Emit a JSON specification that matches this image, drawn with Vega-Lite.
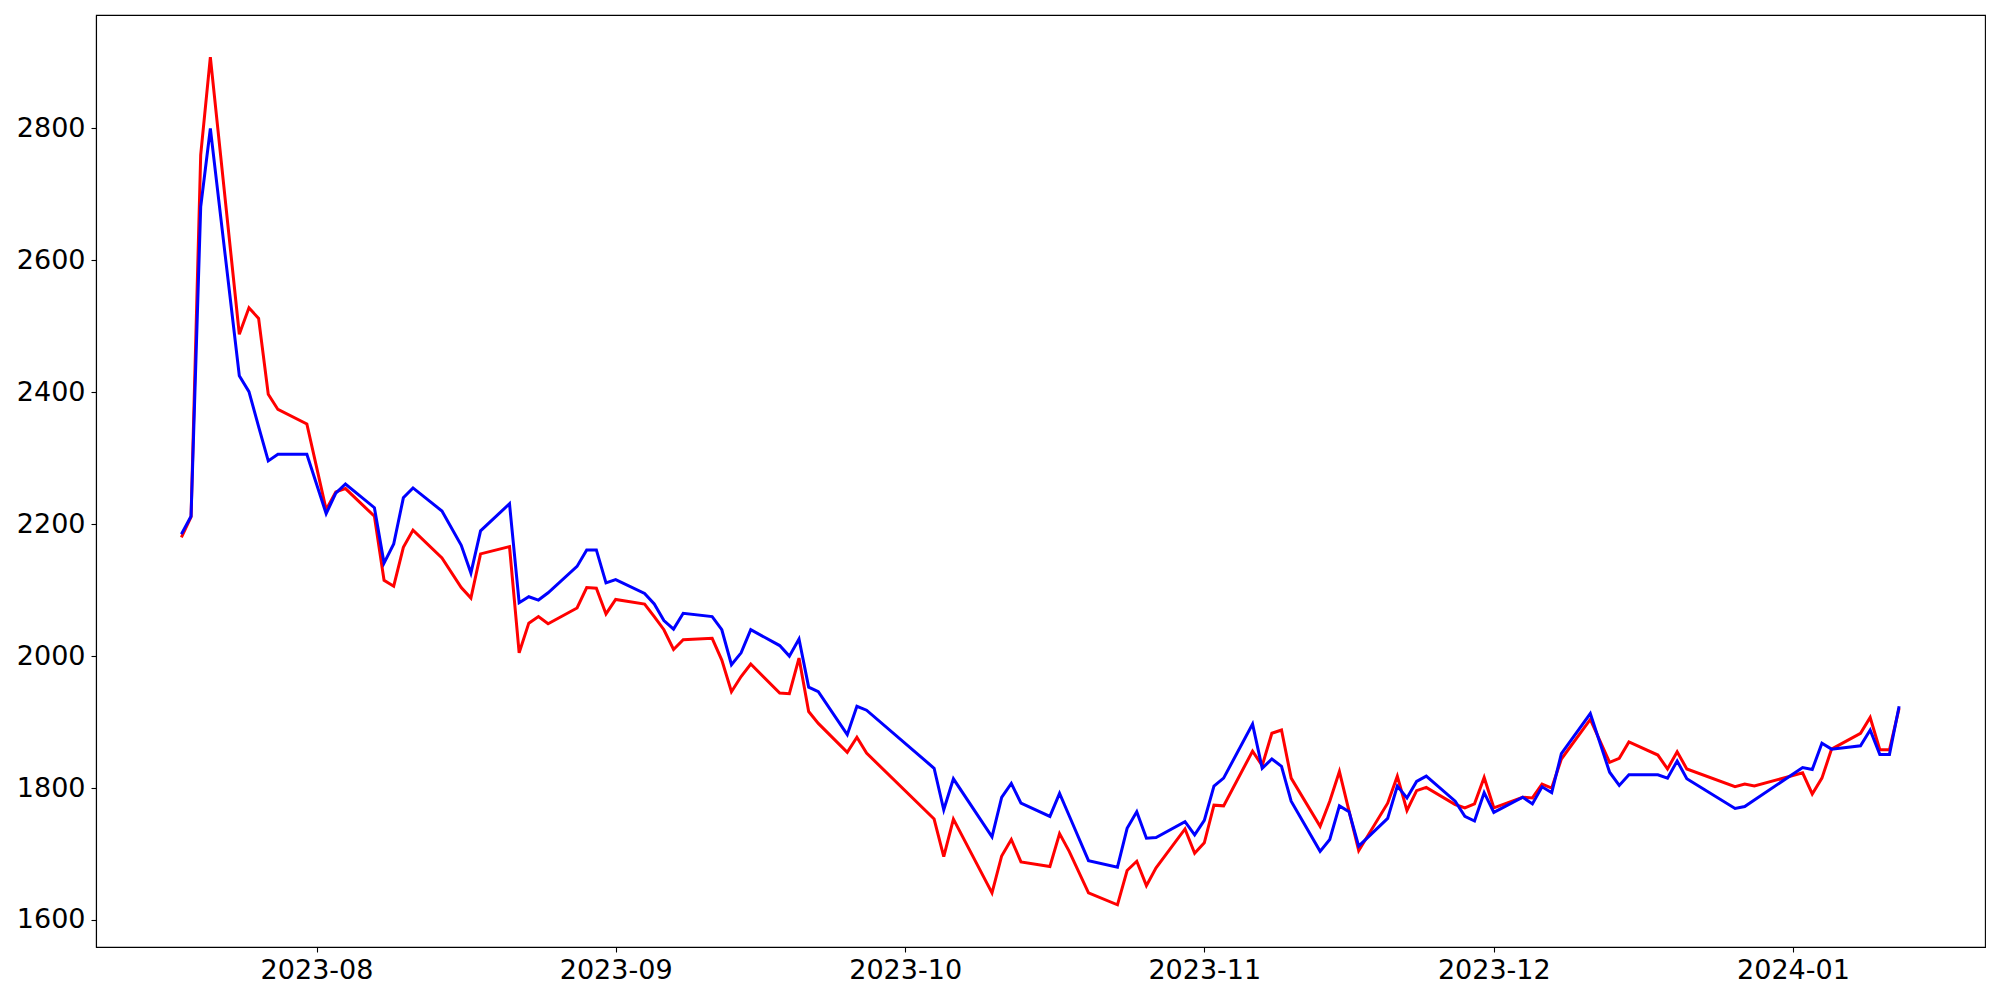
{
  "$schema": "https://vega.github.io/schema/vega-lite/v6.json",
  "width": 1889,
  "height": 932,
  "autosize": {"type": "none"},
  "padding": {"left": 96, "top": 15, "right": 15, "bottom": 53},
  "background": "white",
  "config": {
    "view": {"stroke": "black", "strokeWidth": 1.1},
    "axis": {
      "domainColor": "black", "domainWidth": 1.1,
      "tickColor": "black", "tickWidth": 1.1, "tickSize": 5,
      "labelFont": "DejaVu Sans", "labelFontSize": 27, "labelColor": "black",
      "labelPadding": 5, "grid": false, "labelFlush": false, "labelOverlap": false
    }
  },
  "data": {"values": [
    {"date": "2023-07-18", "r": 2180, "b": 2185},
    {"date": "2023-07-19", "r": 2211, "b": 2212},
    {"date": "2023-07-20", "r": 2760, "b": 2681},
    {"date": "2023-07-21", "r": 2908, "b": 2800},
    {"date": "2023-07-24", "r": 2488, "b": 2425},
    {"date": "2023-07-25", "r": 2528, "b": 2401},
    {"date": "2023-07-26", "r": 2512, "b": 2348},
    {"date": "2023-07-27", "r": 2397, "b": 2296},
    {"date": "2023-07-28", "r": 2374, "b": 2306},
    {"date": "2023-07-31", "r": 2352, "b": 2306},
    {"date": "2023-08-02", "r": 2222, "b": 2216},
    {"date": "2023-08-03", "r": 2249, "b": 2247},
    {"date": "2023-08-04", "r": 2254, "b": 2261},
    {"date": "2023-08-07", "r": 2212, "b": 2225},
    {"date": "2023-08-08", "r": 2115, "b": 2141},
    {"date": "2023-08-09", "r": 2106, "b": 2170},
    {"date": "2023-08-10", "r": 2165, "b": 2240},
    {"date": "2023-08-11", "r": 2191, "b": 2255},
    {"date": "2023-08-14", "r": 2149, "b": 2220},
    {"date": "2023-08-16", "r": 2104, "b": 2168},
    {"date": "2023-08-17", "r": 2088, "b": 2126},
    {"date": "2023-08-18", "r": 2155, "b": 2190},
    {"date": "2023-08-21", "r": 2166, "b": 2231},
    {"date": "2023-08-22", "r": 2005, "b": 2081},
    {"date": "2023-08-23", "r": 2050, "b": 2090},
    {"date": "2023-08-24", "r": 2060, "b": 2085},
    {"date": "2023-08-25", "r": 2049, "b": 2096},
    {"date": "2023-08-28", "r": 2073, "b": 2136},
    {"date": "2023-08-29", "r": 2104, "b": 2161},
    {"date": "2023-08-30", "r": 2103, "b": 2161},
    {"date": "2023-08-31", "r": 2064, "b": 2111},
    {"date": "2023-09-01", "r": 2086, "b": 2116},
    {"date": "2023-09-04", "r": 2079, "b": 2095},
    {"date": "2023-09-05", "r": 2060, "b": 2079},
    {"date": "2023-09-06", "r": 2040, "b": 2054},
    {"date": "2023-09-07", "r": 2010, "b": 2041},
    {"date": "2023-09-08", "r": 2025, "b": 2065},
    {"date": "2023-09-11", "r": 2027, "b": 2060},
    {"date": "2023-09-12", "r": 1994, "b": 2040},
    {"date": "2023-09-13", "r": 1946, "b": 1987},
    {"date": "2023-09-14", "r": 1969, "b": 2005},
    {"date": "2023-09-15", "r": 1988, "b": 2040},
    {"date": "2023-09-18", "r": 1944, "b": 2016},
    {"date": "2023-09-19", "r": 1943, "b": 2000},
    {"date": "2023-09-20", "r": 1997, "b": 2026},
    {"date": "2023-09-21", "r": 1916, "b": 1953},
    {"date": "2023-09-22", "r": 1898, "b": 1946},
    {"date": "2023-09-25", "r": 1854, "b": 1881},
    {"date": "2023-09-26", "r": 1877, "b": 1924},
    {"date": "2023-09-27", "r": 1853, "b": 1918},
    {"date": "2023-10-04", "r": 1753, "b": 1830},
    {"date": "2023-10-05", "r": 1696, "b": 1767},
    {"date": "2023-10-06", "r": 1753, "b": 1814},
    {"date": "2023-10-10", "r": 1641, "b": 1726},
    {"date": "2023-10-11", "r": 1697, "b": 1786},
    {"date": "2023-10-12", "r": 1722, "b": 1807},
    {"date": "2023-10-13", "r": 1688, "b": 1777},
    {"date": "2023-10-16", "r": 1681, "b": 1757},
    {"date": "2023-10-17", "r": 1731, "b": 1792},
    {"date": "2023-10-18", "r": 1704, "b": 1758},
    {"date": "2023-10-20", "r": 1641, "b": 1690},
    {"date": "2023-10-23", "r": 1623, "b": 1680},
    {"date": "2023-10-24", "r": 1675, "b": 1739},
    {"date": "2023-10-25", "r": 1689, "b": 1764},
    {"date": "2023-10-26", "r": 1652, "b": 1724},
    {"date": "2023-10-27", "r": 1679, "b": 1725},
    {"date": "2023-10-30", "r": 1738, "b": 1749},
    {"date": "2023-10-31", "r": 1701, "b": 1729},
    {"date": "2023-11-01", "r": 1717, "b": 1751},
    {"date": "2023-11-02", "r": 1774, "b": 1803},
    {"date": "2023-11-03", "r": 1773, "b": 1815},
    {"date": "2023-11-06", "r": 1856, "b": 1897},
    {"date": "2023-11-07", "r": 1834, "b": 1830},
    {"date": "2023-11-08", "r": 1883, "b": 1844},
    {"date": "2023-11-09", "r": 1888, "b": 1833},
    {"date": "2023-11-10", "r": 1815, "b": 1780},
    {"date": "2023-11-13", "r": 1742, "b": 1704},
    {"date": "2023-11-14", "r": 1780, "b": 1722},
    {"date": "2023-11-15", "r": 1825, "b": 1773},
    {"date": "2023-11-16", "r": 1765, "b": 1764},
    {"date": "2023-11-17", "r": 1705, "b": 1712},
    {"date": "2023-11-20", "r": 1777, "b": 1754},
    {"date": "2023-11-21", "r": 1818, "b": 1803},
    {"date": "2023-11-22", "r": 1766, "b": 1785},
    {"date": "2023-11-23", "r": 1796, "b": 1810},
    {"date": "2023-11-24", "r": 1801, "b": 1818},
    {"date": "2023-11-27", "r": 1775, "b": 1780},
    {"date": "2023-11-28", "r": 1770, "b": 1757},
    {"date": "2023-11-29", "r": 1776, "b": 1750},
    {"date": "2023-11-30", "r": 1816, "b": 1793},
    {"date": "2023-12-01", "r": 1770, "b": 1763},
    {"date": "2023-12-04", "r": 1786, "b": 1786},
    {"date": "2023-12-05", "r": 1785, "b": 1776},
    {"date": "2023-12-06", "r": 1806, "b": 1802},
    {"date": "2023-12-07", "r": 1800, "b": 1793},
    {"date": "2023-12-08", "r": 1844, "b": 1852},
    {"date": "2023-12-11", "r": 1904, "b": 1913},
    {"date": "2023-12-13", "r": 1839, "b": 1824},
    {"date": "2023-12-14", "r": 1845, "b": 1804},
    {"date": "2023-12-15", "r": 1870, "b": 1820},
    {"date": "2023-12-18", "r": 1850, "b": 1820},
    {"date": "2023-12-19", "r": 1829, "b": 1815},
    {"date": "2023-12-20", "r": 1855, "b": 1841},
    {"date": "2023-12-21", "r": 1829, "b": 1814},
    {"date": "2023-12-26", "r": 1802, "b": 1769},
    {"date": "2023-12-27", "r": 1806, "b": 1772},
    {"date": "2023-12-28", "r": 1803, "b": 1782},
    {"date": "2024-01-02", "r": 1823, "b": 1831},
    {"date": "2024-01-03", "r": 1791, "b": 1828},
    {"date": "2024-01-04", "r": 1815, "b": 1868},
    {"date": "2024-01-05", "r": 1859, "b": 1859},
    {"date": "2024-01-08", "r": 1883, "b": 1864},
    {"date": "2024-01-09", "r": 1907, "b": 1888},
    {"date": "2024-01-10", "r": 1858, "b": 1851},
    {"date": "2024-01-11", "r": 1858, "b": 1851},
    {"date": "2024-01-12", "r": 1921, "b": 1924}
  ]},
  "encoding": {
    "x": {
      "field": "date", "type": "temporal",
      "scale": {"type": "utc", "domain": [
        {"year": 2023, "month": 7, "date": 9, "hours": 3, "minutes": 36, "utc": true},
        {"year": 2024, "month": 1, "date": 20, "hours": 21, "minutes": 36, "utc": true}
      ]},
      "axis": {"title": null, "format": "%Y-%m", "tickCount": {"interval": "month", "step": 1}}
    }
  },
  "layer": [
    {
      "mark": {"type": "line", "color": "#ff0000", "strokeWidth": 3},
      "encoding": {
        "y": {"field": "r", "type": "quantitative", "scale": {"domain": [1559, 2972], "nice": false, "zero": false},
              "axis": {"title": null, "values": [1600, 1800, 2000, 2200, 2400, 2600, 2800], "format": "d", "labelPadding": 6}}
      }
    },
    {
      "mark": {"type": "line", "color": "#0000ff", "strokeWidth": 3},
      "encoding": {
        "y": {"field": "b", "type": "quantitative",
              "axis": {"title": null, "values": [1600, 1800, 2000, 2200, 2400, 2600, 2800], "format": "d", "labelPadding": 6}}
      }
    }
  ]
}
